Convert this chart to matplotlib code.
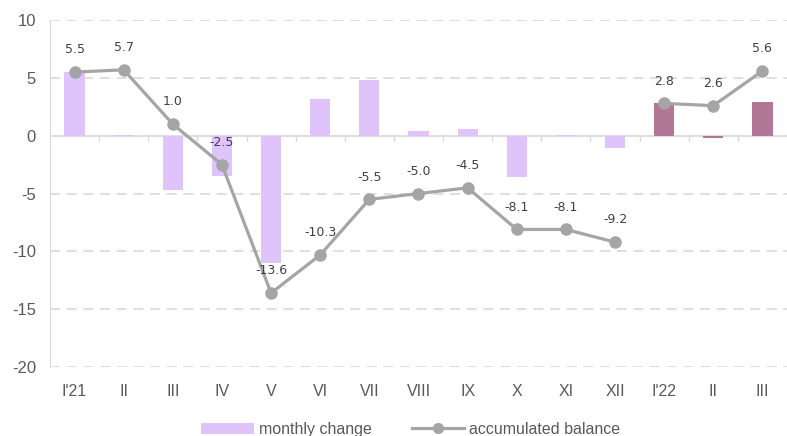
import matplotlib
matplotlib.use("Agg")
import matplotlib.pyplot as plt
import numpy as np
from matplotlib.lines import Line2D
from matplotlib.patches import Patch

categories = ["I'21", "II", "III", "IV", "V", "VI", "VII", "VIII", "IX", "X", "XI", "XII", "I'22", "II", "III"]
monthly_change = [5.5, 0.1, -4.7, -3.5, -11.0, 3.2, 4.85, 0.4, 0.6, -3.6, 0.1, -1.1, 2.8, -0.2, 2.95]
accumulated = [5.5, 5.7, 1.0, -2.5, -13.6, -10.3, -5.5, -5.0, -4.5, -8.1, -8.1, -9.2, 2.8, 2.6, 5.6]
labels = ["5.5", "5.7", "1.0", "-2.5", "-13.6", "-10.3", "-5.5", "-5.0", "-4.5", "-8.1", "-8.1", "-9.2", "2.8", "2.6", "5.6"]

plt.rcParams['font.family'] = ['Liberation Sans', 'DejaVu Sans']
plt.rcParams['axes.unicode_minus'] = False

light = "#dfc3fb"
dark = "#b27697"
gray = "#a5a5a5"
txt = "#595959"

fig = plt.figure(figsize=(7.87, 4.36), dpi=100)
ax = fig.add_axes([0.0635, 0.158, 0.9365, 0.796])

x = np.arange(len(categories))
colors = [light if i < 12 else dark for i in range(len(categories))]
ax.bar(x, monthly_change, width=0.41, color=colors, zorder=2)

ax.plot(x[:12], accumulated[:12], color=gray, lw=2.3, marker='o', ms=8, zorder=3)
ax.plot(x[12:], accumulated[12:], color=gray, lw=2.3, marker='o', ms=8, zorder=3)
for xi, yi, lab in zip(x, accumulated, labels):
    ax.annotate(lab, (xi, yi), xytext=(0, 16), textcoords='offset points',
                ha='center', va='center', fontsize=9, color='#404040',
                family=['DejaVu Sans'], zorder=4)

ax.set_xlim(-0.5, len(categories) - 0.5)
ax.set_ylim(-20, 10)
ax.set_yticks([-20, -15, -10, -5, 0, 5, 10])
for yv in [-20, -15, -10, -5, 5, 10]:
    ax.axhline(yv, color='#d9d9d9', lw=1.2, ls=(0, (6, 4)), zorder=1)
ax.axhline(0, color='#d9d9d9', lw=1.2, zorder=1)
ax.vlines(np.arange(0.5, len(categories) - 0.5), -0.45, 0, color='#d9d9d9', lw=1.0, zorder=1)

ax.set_xticks(x)
ax.set_xticklabels(categories)
for s in ['top', 'right', 'bottom']:
    ax.spines[s].set_visible(False)
ax.spines['left'].set_color('#d9d9d9')
ax.tick_params(axis='x', length=0, pad=12, labelsize=11.5, labelcolor=txt)
ax.tick_params(axis='y', length=0, pad=10, labelsize=12, labelcolor=txt)

handles = [Patch(facecolor=light, edgecolor='none', label='monthly change'),
           Line2D([0], [0], color=gray, lw=2.3, marker='o', ms=7, label='accumulated balance')]
fig.legend(handles=handles, loc='lower center', bbox_to_anchor=(0.522, -0.035), ncol=2, frameon=False,
           fontsize=11.5, labelcolor=txt, handlelength=3.3, handleheight=0.7, columnspacing=2.5, handletextpad=0.3)

fig.savefig("out.png", dpi=100)
